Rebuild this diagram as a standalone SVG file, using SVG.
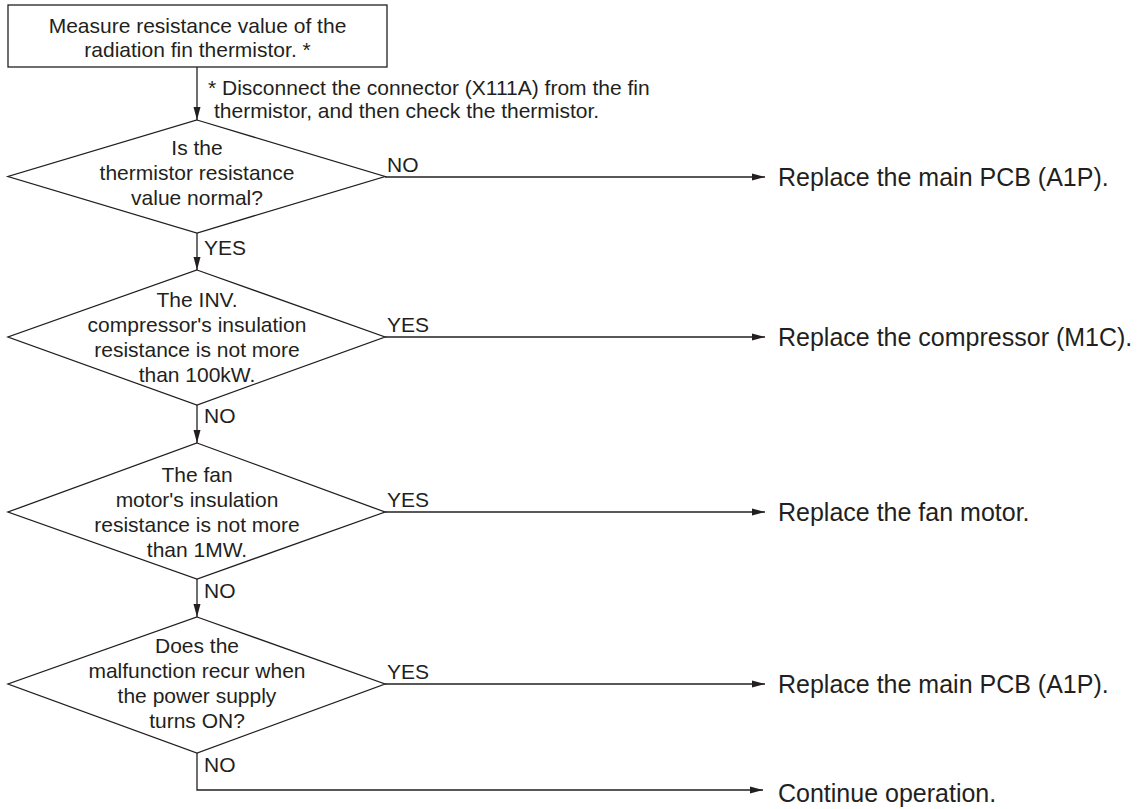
<svg xmlns="http://www.w3.org/2000/svg" width="1144" height="809" viewBox="0 0 1144 809">
  <defs>
    <style>
      .shape { fill: #ffffff; stroke: #231f20; stroke-width: 1.3; }
      .wire { fill: none; stroke: #231f20; stroke-width: 1.3; }
      .txt { font-family: "Liberation Sans", Arial, sans-serif; font-size: 21px; fill: #231f20; }
      .mid { text-anchor: middle; }
      .result { font-family: "Liberation Sans", Arial, sans-serif; font-size: 25px; fill: #231f20; }
    </style>
    <marker id="arrow" markerUnits="userSpaceOnUse" markerWidth="14" markerHeight="10" refX="13" refY="4" orient="auto">
      <path d="M0,0.5 L13,4 L0,7.5 Z" fill="#231f20"/>
    </marker>
  </defs>

  <rect width="1144" height="809" fill="#ffffff"/>

  <!-- connectors -->
  <g id="connectors">
    <line class="wire" x1="197" y1="67" x2="197" y2="120" marker-end="url(#arrow)"/>
    <line class="wire" x1="197" y1="233" x2="197" y2="270" marker-end="url(#arrow)"/>
    <line class="wire" x1="197" y1="405" x2="197" y2="443" marker-end="url(#arrow)"/>
    <line class="wire" x1="197" y1="579" x2="197" y2="617" marker-end="url(#arrow)"/>
    <line class="wire" x1="385" y1="177" x2="765" y2="177" marker-end="url(#arrow)"/>
    <line class="wire" x1="385" y1="337" x2="765" y2="337" marker-end="url(#arrow)"/>
    <line class="wire" x1="385" y1="512" x2="765" y2="512" marker-end="url(#arrow)"/>
    <line class="wire" x1="385" y1="684" x2="765" y2="684" marker-end="url(#arrow)"/>
    <polyline class="wire" points="197,753 197,790 763,790" marker-end="url(#arrow)"/>

    <text class="txt" x="387" y="172">NO</text>
    <text class="txt" x="387" y="332">YES</text>
    <text class="txt" x="387" y="507">YES</text>
    <text class="txt" x="387" y="679">YES</text>
    <text class="txt" x="204" y="255">YES</text>
    <text class="txt" x="204" y="423">NO</text>
    <text class="txt" x="204" y="598">NO</text>
    <text class="txt" x="204" y="772">NO</text>
  </g>

  <!-- start box -->
  <g id="measure">
    <rect class="shape" x="8" y="5" width="379" height="62"/>
    <text class="txt mid" x="197.5" y="33">Measure resistance value of the</text>
    <text class="txt mid" x="197.5" y="57">radiation fin thermistor. *</text>
  </g>

  <!-- footnote -->
  <g id="footnote">
    <text class="txt" x="208" y="95">* Disconnect the connector (X111A) from the fin</text>
    <text class="txt" x="214" y="118">thermistor, and then check the thermistor.</text>
  </g>

  <g id="q-thermistor">
    <polygon class="shape" points="197,120 385,176.5 197,233 8,176.5"/>
    <text class="txt mid" x="197" y="155">Is the</text>
    <text class="txt mid" x="197" y="180">thermistor resistance</text>
    <text class="txt mid" x="197" y="205">value normal?</text>
  </g>

  <g id="q-compressor">
    <polygon class="shape" points="197,270 385,337 197,405 8,337"/>
    <text class="txt mid" x="197" y="307">The INV.</text>
    <text class="txt mid" x="197" y="332">compressor's insulation</text>
    <text class="txt mid" x="197" y="357">resistance is not more</text>
    <text class="txt mid" x="197" y="382">than 100kW.</text>
  </g>

  <g id="q-fan">
    <polygon class="shape" points="197,443 385,512 197,579 8,512"/>
    <text class="txt mid" x="197" y="482">The fan</text>
    <text class="txt mid" x="197" y="507">motor's insulation</text>
    <text class="txt mid" x="197" y="532">resistance is not more</text>
    <text class="txt mid" x="197" y="557">than 1MW.</text>
  </g>

  <g id="q-recur">
    <polygon class="shape" points="197,617 385,684 197,753 8,684"/>
    <text class="txt mid" x="197" y="653">Does the</text>
    <text class="txt mid" x="197" y="678">malfunction recur when</text>
    <text class="txt mid" x="197" y="703">the power supply</text>
    <text class="txt mid" x="197" y="728">turns ON?</text>
  </g>

  <g id="r-pcb1">
    <text class="result" x="778" y="186">Replace the main PCB (A1P).</text>
  </g>
  <g id="r-compressor">
    <text class="result" x="778" y="346">Replace the compressor (M1C).</text>
  </g>
  <g id="r-fan">
    <text class="result" x="778" y="521">Replace the fan motor.</text>
  </g>
  <g id="r-pcb2">
    <text class="result" x="778" y="693">Replace the main PCB (A1P).</text>
  </g>
  <g id="r-continue">
    <text class="result" x="778" y="802">Continue operation.</text>
  </g>
</svg>
